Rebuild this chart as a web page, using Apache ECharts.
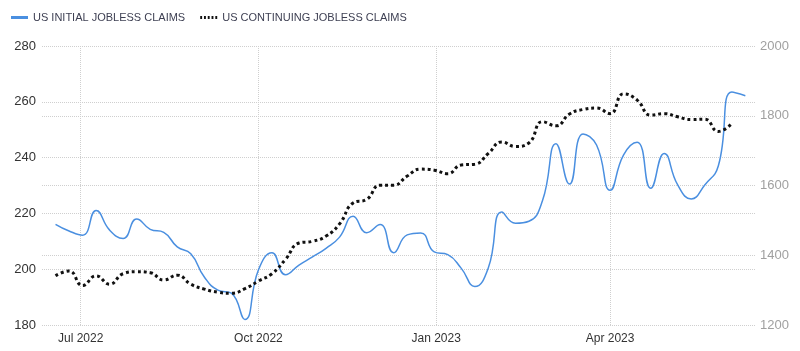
<!DOCTYPE html>
<html>
<head>
<meta charset="utf-8">
<script src="https://cdn.jsdelivr.net/npm/echarts@6/dist/echarts.min.js"></script>
<style>
html,body{margin:0;padding:0;background:#fff;}
#chart{width:800px;height:351px;}
</style>
</head>
<body>
<div id="chart"></div>
<script>
// weekly data, first week ending 2022-06-18
var startWeek = '2022-06-18';
var initialClaims = [216.1,213.7,212.2,221,214,211,218,214.3,213.2,208,205.5,197.2,192.5,191.4,182,199.7,205.9,198,201.5,204.4,207.5,211.5,219,213.1,216,205.9,212.3,213,206.2,205.2,200.3,193.8,200.5,220.5,216.5,217.2,224.5,245,230.5,248.5,244.5,228.3,241,245.5,229,241.5,230.2,225.2,230.2,237,263.5,262.2];
var continuingClaims = [1341,1355,1313,1341,1317,1347,1353,1350,1329,1343,1317,1303,1294,1291,1304,1326,1347,1388,1435,1440,1455,1490,1550,1560,1601,1601,1627,1647,1644,1634,1659,1661,1692,1725,1712,1722,1783,1771,1805,1818,1822,1806,1863,1845,1802,1806,1797,1789,1790,1755,1778];
var xTicks = ['2022-07-01','2022-10-01','2023-01-01','2023-04-01'];
var monthNames = ['Jan','Feb','Mar','Apr','May','Jun','Jul','Aug','Sep','Oct','Nov','Dec'];

function weekly(arr){
	var out=[];
	var t0=new Date(startWeek+'T00:00:00').getTime();
	for(var i=0;i<arr.length;i++){
		out.push([t0+i*7*86400000, arr[i]]);
	}
	return out;
}
var tickVals = xTicks.map(function(d){return new Date(d+'T00:00:00').getTime();});

var myChart = echarts.init(document.getElementById('chart'));
var option = {
	animation:false,
	textStyle:{fontFamily:'Arial'},
	legend:{
		left:6,
		top:7,
		itemWidth:17,
		itemHeight:3,
		itemGap:15,
		textStyle:{color:'#3d3f52',fontSize:11},
		data:[
			{name:'US INITIAL JOBLESS CLAIMS',icon:'rect'},
			{name:'US CONTINUING JOBLESS CLAIMS',icon:'path://M0,0h2v3h-2z M4,0h2v3h-2z M8,0h2v3h-2z M12,0h2v3h-2z M16,0h2v3h-2z'}
		]
	},
	grid:{left:42,right:45,top:46,bottom:26,containLabel:false},
	xAxis:{
		type:'value',
		min:new Date('2022-06-11T00:00:00').getTime(),
		max:new Date('2023-06-15T00:00:00').getTime(),
		axisLine:{show:false},
		axisTick:{show:false,customValues:tickVals},
		axisLabel:{
			customValues:tickVals,
			color:'#333',
			fontSize:12,
			margin:8,
			formatter:function(v){
				var d=new Date(v);
				return monthNames[d.getMonth()]+' '+d.getFullYear();
			}
		},
		splitLine:{show:true,lineStyle:{color:'#cfcfcf',type:'dotted',width:1}}
	},
	yAxis:[
		{
			type:'value',min:180,max:280,interval:20,
			axisLine:{show:false},axisTick:{show:false},
			axisLabel:{color:'#333',fontSize:13,margin:6},
			splitLine:{lineStyle:{color:'#cfcfcf',type:'dotted',width:1}}
		},
		{
			type:'value',min:1200,max:2000,interval:200,
			axisLine:{show:false},axisTick:{show:false},
			axisLabel:{color:'#a0a0a0',fontSize:13,margin:5,formatter:function(v){return String(v);}},
			splitLine:{lineStyle:{color:'#cfcfcf',type:'dotted',width:1}}
		}
	],
	series:[
		{
			name:'US INITIAL JOBLESS CLAIMS',
			type:'line',
			yAxisIndex:0,
			smooth:0.5,
			showSymbol:false,
			symbol:'none',
			lineStyle:{color:'#4a8fe0',width:1.5},
			itemStyle:{color:'#4a8fe0'},
			data:weekly(initialClaims)
		},
		{
			name:'US CONTINUING JOBLESS CLAIMS',
			type:'line',
			yAxisIndex:1,
			smooth:0.5,
			showSymbol:false,
			symbol:'none',
			lineStyle:{color:'#111',width:3,type:[3,3]},
			itemStyle:{color:'#111'},
			data:weekly(continuingClaims)
		}
	]
};
myChart.setOption(option);
</script>
</body>
</html>
